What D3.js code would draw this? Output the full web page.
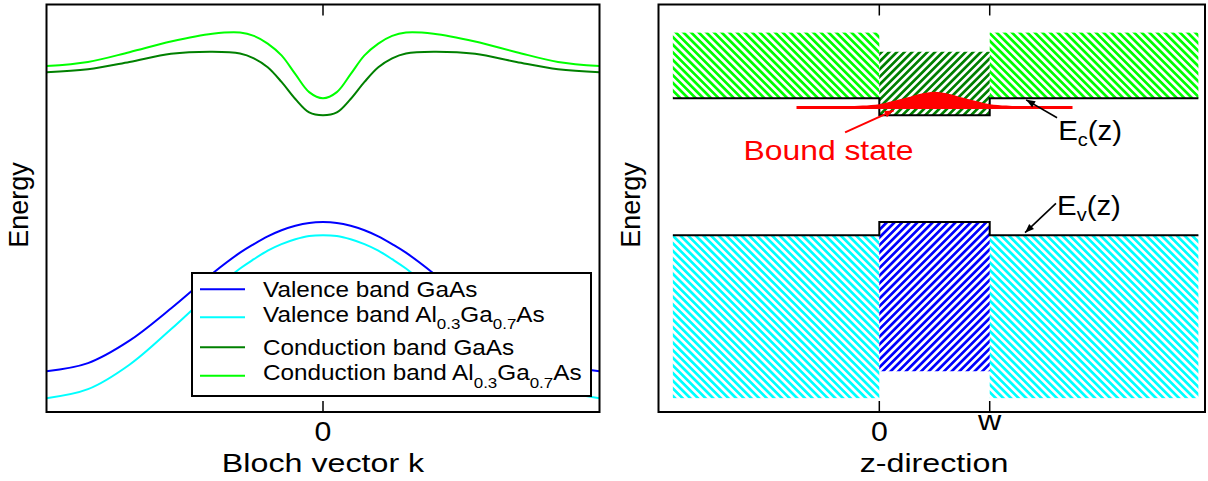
<!DOCTYPE html>
<html><head><meta charset="utf-8">
<script src="https://cdn.jsdelivr.net/npm/d3@7"></script>
<style>
html,body{margin:0;padding:0;background:#fff;}
svg{display:block;font-family:"Liberation Sans",Arial,Helvetica,sans-serif;}
</style></head><body>
<svg id="chart" width="1208" height="481"></svg>
<script>
// ---------------- data ----------------
const kValues          = [-1,-0.85,-0.7,-0.55,-0.4,-0.3,-0.25,-0.2,-0.15,-0.1,-0.05,0,0.05,0.1,0.15,0.2,0.25,0.3,0.4,0.55,0.7,0.85,1];
const valenceGaAs      = [10.0,12.0,17.5,25.4,34.0,39.1,41.2,43.1,44.6,45.7,46.4,46.6,46.4,45.7,44.6,43.1,41.2,39.1,34.0,25.4,17.5,12.0,10.0];
const valenceAlGaAs    = [3.4,5.6,11.6,20.3,29.6,35.2,37.5,39.6,41.2,42.4,43.2,43.4,43.2,42.4,41.2,39.6,37.5,35.2,29.6,20.3,11.6,5.6,3.4];
const conductionGaAs   = [83.4,84.1,85.9,87.9,88.4,88.0,86.8,84.6,81.0,76.8,73.5,72.8,73.5,76.8,81.0,84.6,86.8,88.0,88.4,87.9,85.9,84.1,83.4];
const conductionAlGaAs = [84.9,85.9,88.3,90.9,92.8,93.1,92.3,90.4,87.5,82.9,78.5,77.0,78.5,82.9,87.5,90.4,92.3,93.1,92.8,90.9,88.3,85.9,84.9];

const seriesNames  = ["Valence band GaAs","Valence band Al0.3Ga0.7As","Conduction band GaAs","Conduction band Al0.3Ga0.7As"];
const seriesColors = ["#0000ff","#00ffff","#008000","#00ff00"];

// right panel: z positions (well from 0 to w=10)
const barrierStart = -18.7, wellStart = 0, wellEnd = 10, barrierEnd = 28.9;
const boundZ       = [-7.5,-5,-3,-1.5,0,1.25,2.5,3.75,5,6.25,7.5,8.75,10,11.5,13,15,17.5];
const boundDensity = [0,0.1,0.25,0.5,0.85,1.6,2.45,3.4,3.9,3.4,2.45,1.6,0.85,0.5,0.25,0.1,0];
const boundEnergy  = 74.7;

const leftTicks = [0], leftTickLabels = ["0"];
const rightTicks = [0, 10], rightTickLabels = ["0", "w"];

// ---------------- layout ----------------
const svg = d3.select("#chart");
const TOP = 4.5, BOTTOM = 412;
const L1 = 46.5, R1 = 599.5, L2 = 658.5, R2 = 1205;
const x1 = d3.scaleLinear().domain([-1, 1]).range([L1, R1]);
const x2 = d3.scaleLinear().domain([-20, 29.5]).range([L2, R2]);
const y  = d3.scaleLinear().domain([0, 100]).range([BOTTOM, TOP]);

function txt(parent, x, yy, size, sx, anchor, parts, color, rot) {
  const g = parent.append("g").attr("transform", `translate(${x},${yy})` + (rot ? ` rotate(${rot})` : "") + ` scale(${sx},1)`);
  const t = g.append("text").attr("text-anchor", anchor).attr("fill", color || "#000").attr("font-size", size);
  parts.forEach(p => {
    const s = t.append("tspan").text(p.t);
    if (p.sub) s.attr("font-size", p.sub).attr("dy", p.dy);
    else if (p.dy) s.attr("dy", p.dy);
  });
  return g;
}
function subParts(name, sub, dy) {
  const m = name.match(/^(.*Al)(0\.3)(Ga)(0\.7)(As)$/);
  if (!m) return [{t: name}];
  return [{t: m[1]}, {t: m[2], sub: sub, dy: dy}, {t: m[3], dy: -dy}, {t: m[4], sub: sub, dy: dy}, {t: m[5], dy: -dy}];
}
function arrow(parent, xa, ya, xb, yb, color, w) {
  parent.append("line").attr("x1", xa).attr("y1", ya).attr("x2", xb).attr("y2", yb)
    .attr("stroke", color).attr("stroke-width", w);
  const ang = Math.atan2(yb - ya, xb - xa), L = 9, Wd = 3.5;
  const bx = xb - L * Math.cos(ang), by = yb - L * Math.sin(ang);
  const px = -Math.sin(ang) * Wd, py = Math.cos(ang) * Wd;
  parent.append("polygon").attr("points", `${xb},${yb} ${bx+px},${by+py} ${bx-px},${by-py}`).attr("fill", color);
}

// ---------------- left panel ----------------
const gL = svg.append("g");
svg.append("defs").append("clipPath").attr("id", "clipL").append("rect")
  .attr("x", L1).attr("y", TOP).attr("width", R1 - L1).attr("height", BOTTOM - TOP);
const curves = [valenceGaAs, valenceAlGaAs, conductionGaAs, conductionAlGaAs];
const lineGen = d3.line().x((d, i) => x1(kValues[i])).y(d => y(d)).curve(d3.curveCatmullRom.alpha(0.5));
const cg = gL.append("g").attr("clip-path", "url(#clipL)");
curves.forEach((c, i) => {
  cg.append("path").attr("d", lineGen(c)).attr("fill", "none").attr("stroke", seriesColors[i]).attr("stroke-width", 2);
});

// legend
const lg = gL.append("g");
lg.append("rect").attr("x", 192).attr("y", 273).attr("width", 399).attr("height", 123)
  .attr("fill", "#fff").attr("stroke", "#000").attr("stroke-width", 2);
const rowY = [289.3, 317.3, 347.3, 375.7];
seriesNames.forEach((n, i) => {
  lg.append("line").attr("x1", 200).attr("x2", 245).attr("y1", rowY[i]).attr("y2", rowY[i])
    .attr("stroke", seriesColors[i]).attr("stroke-width", 2);
  const hasSub = n.includes("0.3");
  txt(lg, 263, rowY[i] + (hasSub ? 4.6 : 7.2), 21.5, 1.13, "start", subParts(n, 15, 7.5));
});

// frame + ticks
gL.append("rect").attr("x", L1).attr("y", TOP).attr("width", R1 - L1).attr("height", BOTTOM - TOP)
  .attr("fill", "none").attr("stroke", "#000").attr("stroke-width", 2);
leftTicks.forEach((t, i) => {
  gL.append("line").attr("x1", x1(t)).attr("x2", x1(t)).attr("y1", BOTTOM).attr("y2", BOTTOM - 11).attr("stroke", "#000").attr("stroke-width", 1.5);
  gL.append("line").attr("x1", x1(t)).attr("x2", x1(t)).attr("y1", TOP).attr("y2", TOP + 11).attr("stroke", "#000").attr("stroke-width", 1.5);
  txt(gL, x1(t), 441, 28, 1.08, "middle", [{t: leftTickLabels[i]}]);
});
txt(gL, (L1 + R1) / 2, 472, 26, 1.24, "middle", [{t: "Bloch vector k"}]);
txt(gL, 28, 205, 27, 1, "middle", [{t: "Energy"}], "#000", -90);

// ---------------- right panel ----------------
const gR = svg.append("g");
const defs = svg.append("defs");
function hatch(id, color, angle) {
  const P = 5.4;
  const p = defs.append("pattern").attr("id", id).attr("patternUnits", "userSpaceOnUse")
    .attr("width", P).attr("height", P).attr("patternTransform", `rotate(${angle})`);
  p.append("rect").attr("width", P).attr("height", P).attr("fill", "#fff");
  p.append("rect").attr("width", P * 0.5).attr("height", P).attr("fill", color);
}
hatch("hLime", "#00ff00", -45);
hatch("hDark", "#008000", 45);
hatch("hCyan", "#00ffff", -45);
hatch("hBlue", "#0000ff", 45);

const cbBarrier = d3.extent(conductionAlGaAs), cbWell = d3.extent(conductionGaAs);
const vbBarrier = d3.extent(valenceAlGaAs),   vbWell = d3.extent(valenceGaAs);
function band(z0, z1, ext, fill) {
  gR.append("rect").attr("x", x2(z0)).attr("width", x2(z1) - x2(z0))
    .attr("y", y(ext[1])).attr("height", y(ext[0]) - y(ext[1])).attr("fill", `url(#${fill})`);
}
band(barrierStart, wellStart, cbBarrier, "hLime");
band(wellEnd, barrierEnd, cbBarrier, "hLime");
band(wellStart, wellEnd, cbWell, "hDark");
band(barrierStart, wellStart, vbBarrier, "hCyan");
band(wellEnd, barrierEnd, vbBarrier, "hCyan");
band(wellStart, wellEnd, vbWell, "hBlue");

// band-edge profiles
const prof = d3.line().x(d => x2(d[0])).y(d => y(d[1]));
const ecProfile = [[barrierStart, cbBarrier[0]], [wellStart, cbBarrier[0]], [wellStart, cbWell[0]], [wellEnd, cbWell[0]], [wellEnd, cbBarrier[0]], [barrierEnd, cbBarrier[0]]];
const evProfile = [[barrierStart, vbBarrier[1]], [wellStart, vbBarrier[1]], [wellStart, vbWell[1]], [wellEnd, vbWell[1]], [wellEnd, vbBarrier[1]], [barrierEnd, vbBarrier[1]]];
[ecProfile, evProfile].forEach(p => gR.append("path").attr("d", prof(p)).attr("fill", "none")
  .attr("stroke", "#000").attr("stroke-width", 2).attr("stroke-linejoin", "miter"));

// bound state
const area = d3.area().x((d, i) => x2(boundZ[i])).y0(y(boundEnergy)).y1(d => y(boundEnergy + d)).curve(d3.curveCatmullRom.alpha(0.5));
gR.append("path").attr("d", area(boundDensity)).attr("fill", "#ff0000");
gR.append("line").attr("x1", x2(boundZ[0])).attr("x2", x2(boundZ[boundZ.length - 1]))
  .attr("y1", y(boundEnergy)).attr("y2", y(boundEnergy)).attr("stroke", "#ff0000").attr("stroke-width", 3);

// annotations
arrow(gR, x2(-3.1), y(68.6), x2(1.3), y(74.0), "#ff0000", 2);
txt(gR, x2(-12.3), y(61.9), 27, 1.18, "start", [{t: "Bound state"}], "#ff0000");
arrow(gR, x2(16.1), y(72.2), x2(13.3), y(76.6), "#000", 1.6);
txt(gR, x2(16.2), y(66.7), 28, 1.05, "start", [{t: "E"}, {t: "c", sub: 19, dy: 6}, {t: "(z)", dy: -6}]);
arrow(gR, x2(16.0), y(51.2), x2(13.2), y(44.0), "#000", 1.6);
txt(gR, x2(16.1), y(48.3), 28, 1.05, "start", [{t: "E"}, {t: "v", sub: 19, dy: 6}, {t: "(z)", dy: -6}]);

// frame + ticks
gR.append("rect").attr("x", L2).attr("y", TOP).attr("width", R2 - L2).attr("height", BOTTOM - TOP)
  .attr("fill", "none").attr("stroke", "#000").attr("stroke-width", 2);
rightTicks.forEach((t, i) => {
  gR.append("line").attr("x1", x2(t)).attr("x2", x2(t)).attr("y1", BOTTOM).attr("y2", BOTTOM - 11).attr("stroke", "#000").attr("stroke-width", 1.5);
  gR.append("line").attr("x1", x2(t)).attr("x2", x2(t)).attr("y1", TOP).attr("y2", TOP + 11).attr("stroke", "#000").attr("stroke-width", 1.5);
  const lbl = rightTickLabels[i];
  txt(gR, x2(t), lbl === "w" ? 430 : 441, 28, lbl === "w" ? 1.15 : 1.08, "middle", [{t: lbl}]);
});
txt(gR, 934, 472, 26, 1.24, "middle", [{t: "z-direction"}]);
txt(gR, 640, 205, 27, 1, "middle", [{t: "Energy"}], "#000", -90);
</script>
</body></html>
